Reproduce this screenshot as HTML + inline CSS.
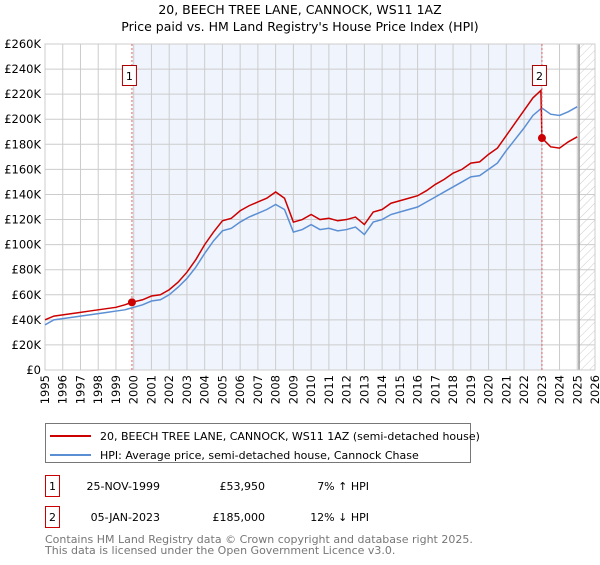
<!DOCTYPE html>
<html><head><meta charset="utf-8"><style>
body{margin:0;background:#fff;font-family:"Liberation Sans","DejaVu Sans",sans-serif;}
svg text{font-family:"DejaVu Sans","Liberation Sans",sans-serif;}
</style></head><body>
<svg width="600" height="560" xmlns="http://www.w3.org/2000/svg">
<defs><pattern id="hatch" width="6" height="6" patternUnits="userSpaceOnUse" patternTransform="rotate(45)"><line x1="0" y1="0" x2="0" y2="6" stroke="#ccc" stroke-width="1"/></pattern></defs>
<text x="300" y="14" font-size="12.5" text-anchor="middle">20, BEECH TREE LANE, CANNOCK, WS11 1AZ</text>
<text x="300" y="31" font-size="12.5" text-anchor="middle">Price paid vs. HM Land Registry's House Price Index (HPI)</text>
<g id="plot"></g>
<g>
<rect x="45.5" y="423.5" width="425" height="39" fill="#fff" stroke="#777"/>
<line x1="50" y1="436" x2="91" y2="436" stroke="#cc0000" stroke-width="2"/>
<text x="100" y="440" font-size="11">20, BEECH TREE LANE, CANNOCK, WS11 1AZ (semi-detached house)</text>
<line x1="50" y1="455" x2="91" y2="455" stroke="#5b8fd4" stroke-width="2"/>
<text x="100" y="459" font-size="11">HPI: Average price, semi-detached house, Cannock Chase</text>
</g>
<g font-size="11">
<rect x="45.5" y="475.5" width="14" height="21" fill="#fff" stroke="#cc0000"/>
<text x="52.5" y="490" text-anchor="middle">1</text>
<text x="160" y="490" text-anchor="end">25-NOV-1999</text>
<text x="265" y="490" text-anchor="end">£53,950</text>
<text x="369" y="490" text-anchor="end">7% ↑ HPI</text>
<rect x="45.5" y="506.5" width="14" height="21" fill="#fff" stroke="#cc0000"/>
<text x="52.5" y="521" text-anchor="middle">2</text>
<text x="160" y="521" text-anchor="end">05-JAN-2023</text>
<text x="265" y="521" text-anchor="end">£185,000</text>
<text x="369" y="521" text-anchor="end">12% ↓ HPI</text>
</g>
<text x="45" y="543" font-size="11" fill="#777">Contains HM Land Registry data © Crown copyright and database right 2025.</text>
<text x="45" y="554" font-size="11" fill="#777">This data is licensed under the Open Government Licence v3.0.</text>
</svg>
<script>
const hpiYears=[1995,1995.5,1996,1996.5,1997,1997.5,1998,1998.5,1999,1999.5,2000,2000.5,2001,2001.5,2002,2002.5,2003,2003.5,2004,2004.5,2005,2005.5,2006,2006.5,2007,2007.5,2008,2008.5,2009,2009.5,2010,2010.5,2011,2011.5,2012,2012.5,2013,2013.5,2014,2014.5,2015,2015.5,2016,2016.5,2017,2017.5,2018,2018.5,2019,2019.5,2020,2020.5,2021,2021.5,2022,2022.5,2023,2023.5,2024,2024.5,2025];
const hpiValues=[36,40,41,42,43,44,45,46,47,48,50,52,55,56,60,66,73,82,93,103,111,113,118,122,125,128,132,128,110,112,116,112,113,111,112,114,108,118,120,124,126,128,130,134,138,142,146,150,154,155,160,165,175,184,193,203,209,204,203,206,210];
const priceYears=[1995,1995.5,1996,1996.5,1997,1997.5,1998,1998.5,1999,1999.5,1999.9,2000.5,2001,2001.5,2002,2002.5,2003,2003.5,2004,2004.5,2005,2005.5,2006,2006.5,2007,2007.5,2008,2008.5,2009,2009.5,2010,2010.5,2011,2011.5,2012,2012.5,2013,2013.5,2014,2014.5,2015,2015.5,2016,2016.5,2017,2017.5,2018,2018.5,2019,2019.5,2020,2020.5,2021,2021.5,2022,2022.5,2022.95,2023.01,2023.5,2024,2024.5,2025];
const priceValues=[40,43,44,45,46,47,48,49,50,52,54,56,59,60,64,70,78,88,100,110,119,121,127,131,134,137,142,137,118,120,124,120,121,119,120,122,116,126,128,133,135,137,139,143,148,152,157,160,165,166,172,177,187,197,207,217,223,185,178,177,182,186];
const yTicks=[0,20,40,60,80,100,120,140,160,180,200,220,240,260];
const xTicks=[1995,1996,1997,1998,1999,2000,2001,2002,2003,2004,2005,2006,2007,2008,2009,2010,2011,2012,2013,2014,2015,2016,2017,2018,2019,2020,2021,2022,2023,2024,2025,2026];
const sales=[{n:"1",t:1999.9,v:53.95},{n:"2",t:2023.01,v:185}];
const L=45,R=595,T=44,B=370;
const x=t=>L+(t-1995)*(R-L)/31, y=v=>B-v*(B-T)/260;
const NS="http://www.w3.org/2000/svg", g=document.getElementById('plot');
function mk(tag,a,p){const e=document.createElementNS(NS,tag);for(const k in a)e.setAttribute(k,a[k]);(p||g).appendChild(e);return e;}
let e;
e=mk('rect',{x:x(sales[0].t),y:T,width:x(sales[1].t)-x(sales[0].t),height:B-T,fill:'#f0f4fc'});


e=mk('rect',{x:x(2025.1),y:T,width:R-x(2025.1),height:B-T,fill:'url(#hatch)'});


yTicks.forEach(v=>{e=mk('line',{x1:L,x2:R,y1:y(v),y2:y(v),stroke:'#ccc'});


e=mk('text',{x:L-4,y:y(v)+4,'font-size':11.5,'text-anchor':'end'});e.textContent=v===0?'£0':'£'+v+'K';

});
xTicks.forEach(t=>{e=mk('line',{x1:x(t),x2:x(t),y1:T,y2:B,stroke:'#ccc'});


e=mk('text',{transform:`translate(${x(t)+4},${B+5}) rotate(-90)`,'font-size':11.5,'text-anchor':'end'});e.textContent=t;

});
e=mk('line',{x1:x(2025.1),x2:x(2025.1),y1:T,y2:B,stroke:'#999','stroke-width':1.5});


e=mk('rect',{x:L,y:T,width:R-L,height:B-T,fill:'none',stroke:'#ccc'});


e=mk('polyline',{points:hpiYears.map((t,i)=>x(t)+','+y(hpiValues[i])).join(' '),fill:'none',stroke:'#5b8fd4','stroke-width':1.5});


e=mk('polyline',{points:priceYears.map((t,i)=>x(t)+','+y(priceValues[i])).join(' '),fill:'none',stroke:'#cc0000','stroke-width':1.5});


sales.forEach(s=>{e=mk('line',{x1:x(s.t),x2:x(s.t),y1:T,y2:B,stroke:'#e06666','stroke-dasharray':'2,2'});


e=mk('circle',{cx:x(s.t),cy:y(s.v),r:4,fill:'#cc0000'});


e=mk('rect',{x:x(s.t)-9.5,y:65.5,width:14,height:20,fill:'#fff',stroke:'#aa0000'});


e=mk('text',{x:x(s.t)-2.5,y:80,'font-size':11,'text-anchor':'middle'});e.textContent=s.n;

});
</script>
</body></html>
